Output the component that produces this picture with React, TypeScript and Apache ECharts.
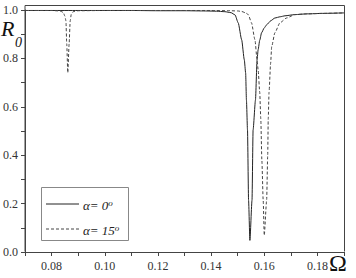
import React, { useEffect, useRef } from "react";
import * as echarts from "echarts";

const omega0 = [0.070, 0.080, 0.090, 0.100, 0.110, 0.120, 0.130, 0.138, 0.142, 0.1452, 0.1475, 0.1490, 0.1502, 0.1515, 0.1525, 0.1530, 0.1533, 0.1537, 0.1541, 0.1546, 0.1554, 0.1558, 0.1567, 0.1573, 0.1577, 0.1583, 0.1590, 0.1600, 0.1609, 0.1625, 0.1640, 0.1660, 0.1678, 0.1715, 0.1760, 0.1820, 0.1900];
const r0 = [0.998, 0.998, 0.998, 0.998, 0.998, 0.997, 0.997, 0.996, 0.995, 0.993, 0.989, 0.980, 0.947, 0.877, 0.794, 0.740, 0.628, 0.504, 0.214, 0.048, 0.214, 0.504, 0.628, 0.794, 0.836, 0.875, 0.906, 0.926, 0.939, 0.956, 0.967, 0.972, 0.976, 0.981, 0.984, 0.986, 0.988];

const omega15 = [0.070, 0.080, 0.0832, 0.0844, 0.0850, 0.0854, 0.0857, 0.0861, 0.0866, 0.0870, 0.0874, 0.0881, 0.090, 0.100, 0.120, 0.140, 0.1471, 0.1500, 0.1515, 0.1530, 0.1540, 0.1552, 0.1565, 0.1573, 0.1577, 0.1583, 0.1587, 0.1591, 0.1596, 0.1600, 0.1609, 0.1613, 0.1615, 0.1618, 0.1624, 0.1628, 0.1640, 0.1659, 0.1684, 0.1715, 0.1760, 0.1820, 0.1900];
const r15 = [0.998, 0.998, 0.996, 0.990, 0.975, 0.955, 0.860, 0.741, 0.860, 0.955, 0.982, 0.993, 0.997, 0.998, 0.998, 0.998, 0.997, 0.996, 0.994, 0.988, 0.981, 0.947, 0.877, 0.794, 0.753, 0.660, 0.550, 0.380, 0.214, 0.069, 0.214, 0.400, 0.550, 0.660, 0.780, 0.849, 0.906, 0.947, 0.967, 0.981, 0.984, 0.986, 0.988];

const seriesNames = ["α= 0", "α= 15"];

const serif = "Liberation Serif";

export default function App() {
  const ref = useRef<HTMLDivElement>(null);
  useEffect(() => {
    if (!ref.current) return;
    const chart = echarts.init(ref.current, undefined, { renderer: "svg" });
    const d0 = omega0.map((x, i) => [x, r0[i]]);
    const d15 = omega15.map((x, i) => [x, r15[i]]);
    chart.setOption({
      animation: false,
      textStyle: { fontFamily: serif },
      grid: { left: 25, right: 12, top: 10, bottom: 26, show: false },
      xAxis: {
        type: "value",
        min: 0.07,
        max: 0.19,
        interval: 0.01,
        axisLine: { show: true, lineStyle: { color: "#444", width: 1 } },
        axisTick: { show: true, length: 4, lineStyle: { color: "#444" } },
        splitLine: { show: false },
        axisLabel: {
          margin: 8,
          fontFamily: serif,
          fontSize: 12,
          color: "#333",
          formatter: (v: number) => {
            const k = Math.round(v * 100);
            if (k % 2 !== 0) return "";
            return v.toFixed(2);
          },
        },
      },
      yAxis: {
        type: "value",
        min: 0,
        max: 1.0,
        interval: 0.1,
        axisLine: { show: true, lineStyle: { color: "#444", width: 1 } },
        axisTick: { show: true, length: 4, lineStyle: { color: "#444" } },
        splitLine: { show: false },
        axisLabel: {
          margin: 7,
          fontFamily: serif,
          fontSize: 12,
          color: "#333",
          formatter: (v: number) => {
            const k = Math.round(v * 10);
            if (k % 2 !== 0) return "";
            return v.toFixed(1);
          },
        },
      },
      series: [
        {
          name: seriesNames[0],
          type: "line",
          data: d0,
          showSymbol: false,
          smooth: 0.2,
          smoothMonotone: "x",
          lineStyle: { color: "#222", width: 1 },
        },
        {
          name: seriesNames[1],
          type: "line",
          data: d15,
          showSymbol: false,
          smooth: 0.2,
          smoothMonotone: "x",
          lineStyle: { color: "#444", width: 1, type: [3, 2] },
        },
      ],
      graphic: [
        {
          type: "polyline",
          shape: { points: [[25, 251.5], [25, 5.5], [344.5, 5.5], [344.5, 251.5]] },
          style: { stroke: "#444", lineWidth: 1, fill: null },
          z: 10,
        },
        {
          type: "rect",
          shape: { x: 41.5, y: 187.5, width: 87, height: 53 },
          style: { stroke: "#888", lineWidth: 1, fill: "#fff" },
          z: 20,
        },
        {
          type: "line",
          shape: { x1: 46, y1: 204, x2: 79, y2: 204 },
          style: { stroke: "#222", lineWidth: 1 },
          z: 21,
        },
        {
          type: "line",
          shape: { x1: 46, y1: 229, x2: 79, y2: 229 },
          style: { stroke: "#444", lineWidth: 1, lineDash: [3, 2] },
          z: 21,
        },
        {
          type: "text",
          x: 83,
          y: 205,
          z: 21,
          style: {
            text: "{a|" + seriesNames[0] + "}{s|o}",
            verticalAlign: "middle",
            rich: {
              a: { fontFamily: serif, fontStyle: "italic", fontSize: 13, fill: "#222", verticalAlign: "bottom" },
              s: { fontFamily: serif, fontStyle: "italic", fontSize: 9, fill: "#222", verticalAlign: "top" },
            },
          },
        },
        {
          type: "text",
          x: 83,
          y: 230,
          z: 21,
          style: {
            text: "{a|" + seriesNames[1] + "}{s|o}",
            verticalAlign: "middle",
            rich: {
              a: { fontFamily: serif, fontStyle: "italic", fontSize: 13, fill: "#222", verticalAlign: "bottom" },
              s: { fontFamily: serif, fontStyle: "italic", fontSize: 9, fill: "#222", verticalAlign: "top" },
            },
          },
        },
        {
          type: "text",
          x: 1,
          y: 17,
          style: { text: "R", fontFamily: serif, fontStyle: "italic", fontSize: 22, fill: "#111" },
        },
        {
          type: "text",
          x: 15,
          y: 35,
          style: { text: "0", fontFamily: serif, fontStyle: "italic", fontSize: 14, fill: "#111" },
        },
        {
          type: "text",
          x: 329,
          y: 251,
          style: { text: "Ω", fontFamily: serif, fontSize: 24, fill: "#111" },
        },
      ],
    });
    return () => chart.dispose();
  }, []);
  return (
    <div
      ref={ref}
      style={{ position: "absolute", left: 0, top: 0, width: 356, height: 278, background: "#fff" }}
    />
  );
}
